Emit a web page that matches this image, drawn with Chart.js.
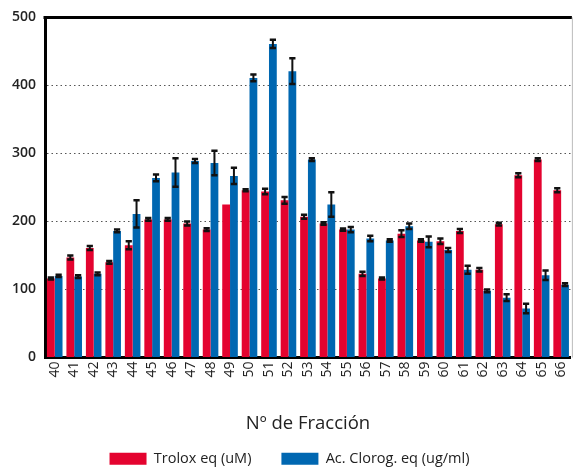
<!DOCTYPE html>
<html>
<head>
<meta charset="utf-8">
<script src="https://cdn.jsdelivr.net/npm/chart.js@4/dist/chart.umd.min.js"></script>
<style>
  body { margin: 0; background: #fff; }
  .wrap { width: 582px; height: 468px; }
</style>
</head>
<body>
<div class="wrap"><canvas class="canva1"></canvas></div>
<script>
let fracciones = [`40`, `41`, `42`, `43`, `44`, `45`, `46`, `47`, `48`, `49`, `50`, `51`, `52`, `53`, `54`, `55`, `56`, `57`, `58`, `59`, `60`, `61`, `62`, `63`, `64`, `65`, `66`];
let trolox = [116, 147, 161, 140, 165, 203, 203, 197, 188, 225, 246, 244, 231, 207, 197, 188, 123, 116, 182, 172, 171, 186, 129, 196, 268, 291, 246];
let troloxErr = [1.5, 3, 3, 2, 6, 2, 2, 3, 2, 0, 1.5, 4, 5, 3, 2, 1.5, 3, 1.5, 5, 2, 4, 3, 2.5, 2, 3, 2, 3];
let clorog = [120, 119, 123, 186, 211, 264, 272, 289, 286, 267, 411, 461, 421, 291, 225, 188, 175, 172, 193, 170, 158, 129, 98, 88, 72, 121, 107];
let clorogErr = [1.5, 2, 2, 2, 20, 5, 21, 3, 18, 12, 5, 6, 19, 2, 18, 4, 4, 2, 4, 8, 3, 6, 2, 5, 7, 7, 2];
let yTicks = [0, 100, 200, 300, 400, 500];

let canva1 = document.querySelector(`.canva1`);

// error bars + top/right frame lines
let extras = {
    id: `extras`,
    afterDatasetsDraw(chart) {
        let ctx = chart.ctx;
        let y = chart.scales.y;
        ctx.save();
        ctx.strokeStyle = `#111`;
        chart.data.datasets.forEach((ds, i) => {
            let meta = chart.getDatasetMeta(i);
            meta.data.forEach((bar, j) => {
                let e = ds.errors[j];
                if (!e) return;
                let top = y.getPixelForValue(ds.data[j] + e);
                let bot = y.getPixelForValue(ds.data[j] - e);
                let hw = bar.width * 0.4;
                ctx.lineWidth = 2;
                ctx.beginPath();
                ctx.moveTo(bar.x, top);
                ctx.lineTo(bar.x, bot);
                ctx.stroke();
                ctx.lineWidth = 2.5;
                ctx.beginPath();
                ctx.moveTo(bar.x - hw, top);
                ctx.lineTo(bar.x + hw, top);
                ctx.moveTo(bar.x - hw, bot);
                ctx.lineTo(bar.x + hw, bot);
                ctx.stroke();
            });
        });
        let a = chart.chartArea;
        ctx.strokeStyle = `#000`;
        ctx.lineWidth = 3;
        ctx.beginPath();
        ctx.moveTo(a.left - 1.5, a.top);
        ctx.lineTo(a.right + 1, a.top);
        ctx.stroke();
        ctx.strokeStyle = `#bbb`;
        ctx.lineWidth = 1;
        ctx.beginPath();
        ctx.moveTo(a.right + 1.5, a.top);
        ctx.lineTo(a.right + 1.5, a.bottom);
        ctx.stroke();
        ctx.restore();
    }
};

new Chart(canva1, {
    type: `bar`,
    data: {
        labels: fracciones,
        datasets: [
            {
                label: `Trolox eq (uM)`,
                data: trolox,
                errors: troloxErr,
                backgroundColor: `#e4032f`,
                barPercentage: 1,
                categoryPercentage: 0.8
            },
            {
                label: `Ac. Clorog. eq (ug/ml)`,
                data: clorog,
                errors: clorogErr,
                backgroundColor: `#0067b1`,
                barPercentage: 1,
                categoryPercentage: 0.8
            }
        ]
    },
    options: {
        responsive: true,
        maintainAspectRatio: false,
        animation: false,
        layout: { padding: { top: 9, right: 3, left: 0, bottom: -8 } },
        plugins: {
            tooltip: { enabled: false },
            legend: {
                position: `bottom`,
                labels: {
                    boxWidth: 37,
                    boxHeight: 12,
                    padding: 30,
                    color: `#222`,
                    font: { family: `Open Sans`, size: 14.5 }
                }
            }
        },
        scales: {
            x: {
                afterFit(scale) { scale.height = 64; },
                grid: { display: false, drawTicks: false },
                border: { display: true, color: `#000`, width: 3 },
                ticks: {
                    autoSkip: false,
                    minRotation: 90,
                    maxRotation: 90,
                    padding: 4,
                    color: `#222`,
                    font: { family: `Open Sans`, size: 14 }
                },
                title: {
                    display: true,
                    text: `Nº de Fracción`,
                    color: `#222`,
                    font: { family: `Open Sans`, size: 18.5 },
                    padding: { top: 20, bottom: -13 }
                }
            },
            y: {
                min: 0,
                max: 500,
                afterFit(scale) { scale.width = 45; },
                afterBuildTicks(scale) { scale.ticks = yTicks.map(v => ({ value: v })); },
                border: { display: true, color: `#000`, width: 3, dash: [1.5, 3] },
                grid: {
                    drawTicks: false,
                    color: ctx => (ctx.tick && (ctx.tick.value === 0 || ctx.tick.value === 500)) ? `rgba(0,0,0,0)` : `#555`,
                    lineWidth: 1
                },
                ticks: {
                    padding: 9,
                    color: `#222`,
                    font: { family: `Open Sans`, size: 14, weight: `600` }
                }
            }
        }
    },
    plugins: [extras]
});
</script>
</body>
</html>
